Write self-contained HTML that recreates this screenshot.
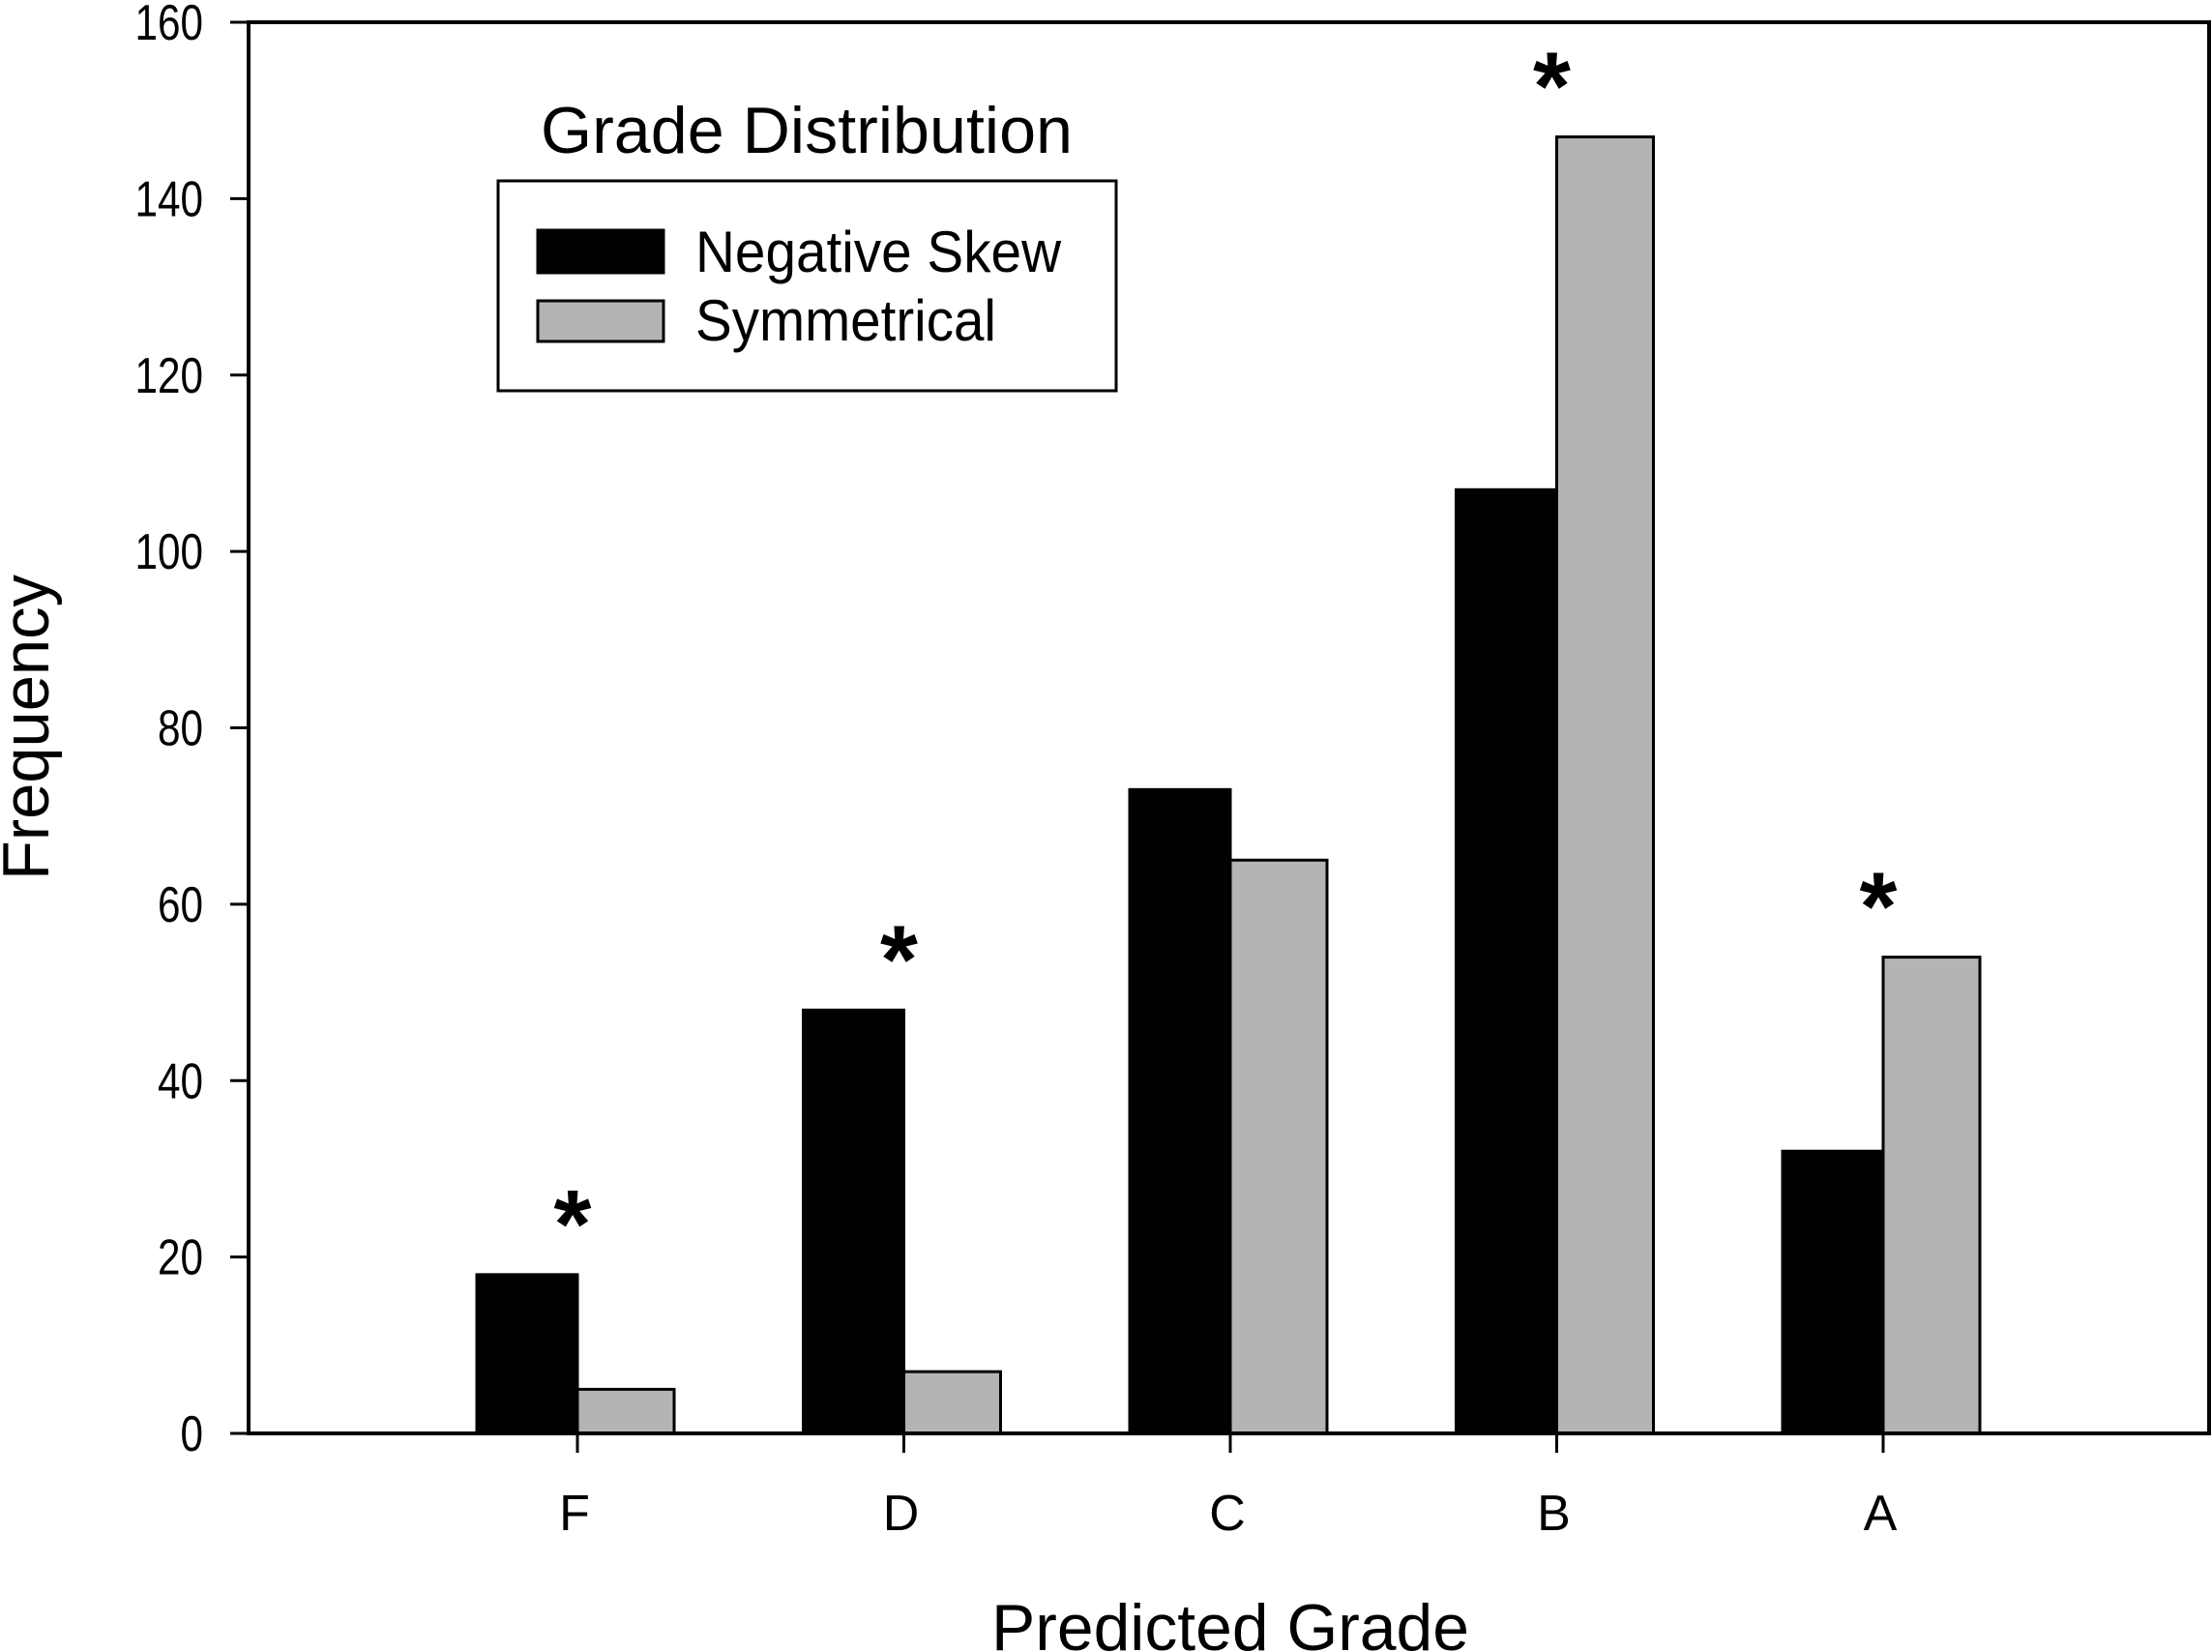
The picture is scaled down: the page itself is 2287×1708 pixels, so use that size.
<!DOCTYPE html>
<html><head><meta charset="utf-8"><style>
html,body{margin:0;padding:0;background:#fff;}
svg{display:block;font-family:"Liberation Sans",Arial,sans-serif;}
</style></head><body>
<svg id="chart" width="2287" height="1708" viewBox="0 0 2287 1708" xmlns="http://www.w3.org/2000/svg">
<g id="plot"></g>
</svg>
<script>
const categories = ["F","D","C","B","A"];
const negativeSkew = [18,48,73,107,32];
const symmetrical = [5,7,65,147,54];
const significant = [true,true,false,true,true];
const yTicks = [0,20,40,60,80,100,120,140,160];

const L=257,R=2284,T=23,B=1482,yMax=160;
const yS=v=>B-(v/yMax)*(B-T);
const cx=i=>597+i*337.5;
const NS="http://www.w3.org/2000/svg";
const g=document.getElementById('plot');
function mk(tag,attrs,text){const e=document.createElementNS(NS,tag);for(const k in attrs)e.setAttribute(k,attrs[k]);if(text!==undefined)e.textContent=text;g.appendChild(e);return e;}

categories.forEach((c,i)=>{
  const x=cx(i);
  let b=mk('rect',{x:x-104,y:yS(negativeSkew[i]),width:104,height:B-yS(negativeSkew[i]),fill:'#000',stroke:'#000','stroke-width':3});
  
  
  let s=mk('rect',{x:x,y:yS(symmetrical[i]),width:100,height:B-yS(symmetrical[i]),fill:'#b4b4b4',stroke:'#000','stroke-width':3});
  
  
  if(significant[i]){
    const top=Math.max(negativeSkew[i],symmetrical[i]);
    let a=mk('text',{x:x-5,y:yS(top)-18,'font-size':100,'font-weight':'bold','text-anchor':'middle'},'*');
    
    
  }
  let t=mk('line',{x1:x,y1:B,x2:x,y2:B+20,stroke:'#000','stroke-width':3});
  
  
  let l=mk('text',{x:x-3,y:1582,'font-size':52,'text-anchor':'middle'},c);
  
  
});

let frame=mk('path',{d:`M${L},${T}H${R}V${B}H${L}Z`,fill:'none',stroke:'#000','stroke-width':4});



yTicks.forEach(v=>{
  let t=mk('line',{x1:238,y1:yS(v),x2:L,y2:yS(v),stroke:'#000','stroke-width':3});
  
  
  const s=String(v);
  let l=mk('text',{x:210,y:yS(v)+18,'font-size':52,'text-anchor':'end',textLength:s.length*23.5,lengthAdjust:'spacingAndGlyphs'},s);
  
  
});

let yt=mk('text',{x:0,y:0,'font-size':68,'text-anchor':'middle',transform:'translate(50,752) rotate(-90)',textLength:316,lengthAdjust:'spacingAndGlyphs'},'Frequency');


let xt=mk('text',{x:1272,y:1706,'font-size':68,'text-anchor':'middle',textLength:494,lengthAdjust:'spacingAndGlyphs'},'Predicted Grade');



let lt=mk('text',{x:559,y:158,'font-size':68,textLength:550,lengthAdjust:'spacingAndGlyphs'},'Grade Distribution');


let lb=mk('rect',{x:515,y:187,width:639,height:217,fill:'#fff',stroke:'#000','stroke-width':3});


let s1=mk('rect',{x:556,y:238,width:130,height:44,fill:'#000',stroke:'#000','stroke-width':3});


let s2=mk('rect',{x:556,y:311,width:130,height:42,fill:'#b4b4b4',stroke:'#000','stroke-width':3});


let l1=mk('text',{x:719,y:281,'font-size':60,textLength:378,lengthAdjust:'spacingAndGlyphs'},'Negative Skew');


let l2=mk('text',{x:719,y:352,'font-size':60,textLength:311,lengthAdjust:'spacingAndGlyphs'},'Symmetrical');


</script>
</body></html>
